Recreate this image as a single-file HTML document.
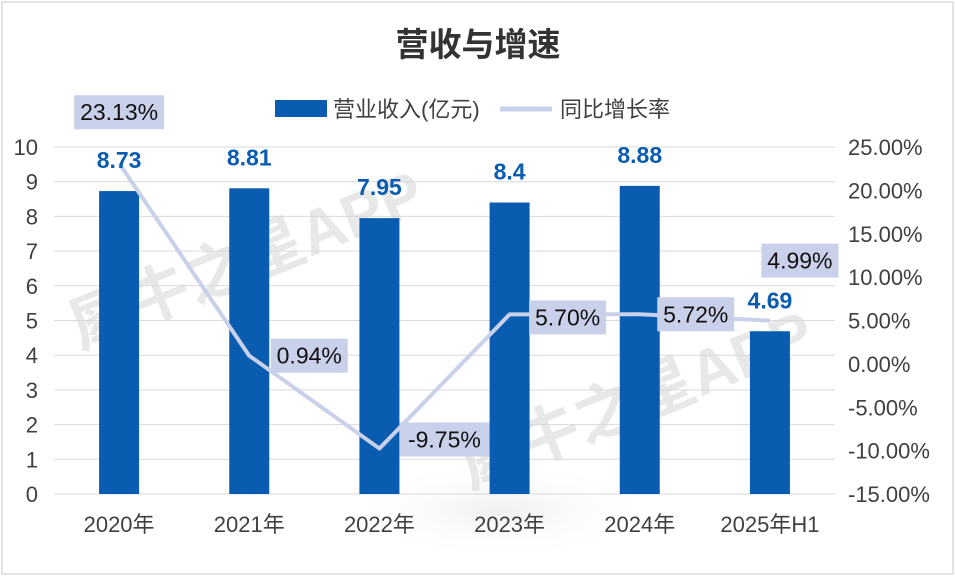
<!DOCTYPE html>
<html><head><meta charset="utf-8"><style>
body{margin:0;background:#fff;}
svg{display:block;font-family:"Liberation Sans","Noto Sans CJK SC",sans-serif;}
</style></head><body>
<svg id="chart" width="955" height="576" viewBox="0 0 955 576">
<defs>
<radialGradient id="ink" cx="50%" cy="50%" r="50%"><stop offset="0" stop-color="#e0e0e0" stop-opacity="0.5"/><stop offset="1" stop-color="#fff" stop-opacity="0"/></radialGradient>
</defs>
<rect x="0" y="0" width="955" height="576" fill="#fff"/>
<ellipse cx="500" cy="510" rx="160" ry="50" fill="url(#ink)"/>
<rect x="2" y="2" width="951" height="572" fill="none" stroke="#d9d9d9" stroke-width="1.5"/>
<text x="478" y="56" text-anchor="middle" font-size="33" font-weight="bold" fill="#333">营收与增速</text>
<g fill="#e8e8e8" font-size="62" font-weight="bold">
<text transform="translate(80,350) rotate(-22)">犀牛之星APP</text>
<text transform="translate(470,490) rotate(-22)">犀牛之星APP</text>
</g>
<g>
<rect x="275" y="100" width="52" height="17" fill="#0a5cb0"/>
<text x="333" y="117" font-size="22" fill="#404040">营业收入(亿元)</text>
<line x1="500" y1="109" x2="552" y2="109" stroke="#c9d0ea" stroke-width="5"/>
<text x="560" y="117" font-size="22" fill="#404040">同比增长率</text>
</g>
<g id="grid"></g><g id="axes"></g><g id="bars"></g><g id="line"></g><g id="labels"></g>
</svg>
<script>
const categories=["2020年","2021年","2022年","2023年","2024年","2025年H1"];
const revenue=[8.73,8.81,7.95,8.4,8.88,4.69];
const growth=[23.13,0.94,-9.75,5.70,5.72,4.99];
const leftTicks=[0,1,2,3,4,5,6,7,8,9,10];
const rightTicks=[-15,-10,-5,0,5,10,15,20,25];
const boxOff=[[0,-51],[60,0],[65,-9],[58,3],[56,0],[30,-60]];
const NS="http://www.w3.org/2000/svg";
const L=54,R=835,T=147,B=494;
const bw=(R-L)/categories.length;
const xC=i=>L+bw*(i+0.5);
const yL=v=>B-(v/10)*(B-T);
const yR=v=>B-((v+15)/40)*(B-T);
function mk(tag,attrs,parent,text){const e=document.createElementNS(NS,tag);for(const k in attrs)e.setAttribute(k,attrs[k]);if(text!==undefined)e.textContent=text;document.getElementById(parent).appendChild(e);return e;}
leftTicks.forEach(t=>{
 const g=mk("line",{x1:L,x2:R,y1:yL(t),y2:yL(t),stroke:"#d9d9d9","stroke-width":1},"grid");
 
 
 const tx=mk("text",{x:38,y:yL(t)+8,"text-anchor":"end","font-size":22,fill:"#404040"},"axes",t);
 
 
});
rightTicks.forEach(t=>{
 const tx=mk("text",{x:848,y:yR(t)+8,"font-size":22,fill:"#404040"},"axes",t.toFixed(2)+"%");
 
 
});
categories.forEach((c,i)=>{
 const tx=mk("text",{x:xC(i),y:532,"text-anchor":"middle","font-size":22,fill:"#404040"},"axes",c);
 
 
});
revenue.forEach((v,i)=>{
 const r=mk("rect",{x:xC(i)-20,y:yL(v),width:40,height:B-yL(v),fill:"#0a5cb0"},"bars");
 
 
 const t=mk("text",{x:xC(i),y:yL(v)-23,"text-anchor":"middle","font-size":23,"font-weight":"bold",fill:"#0a5cb0"},"labels",String(v));
 
 
});
const pts=growth.map((g,i)=>xC(i)+","+yR(g)).join(" ");
const pl=mk("polyline",{points:pts,fill:"none",stroke:"#c9d0ea","stroke-width":4,"stroke-linejoin":"round"},"line");


growth.forEach((g,i)=>{
 const s=g.toFixed(2)+"%";
 const w=s.length*13+12;
 const cx=xC(i)+boxOff[i][0], cy=yR(g)+boxOff[i][1];
 const r=mk("rect",{x:cx-w/2,y:cy-17,width:w,height:34,fill:"#c9d0ea"},"labels");
 
 
 const t=mk("text",{x:cx,y:cy+8,"text-anchor":"middle","font-size":23,fill:"#111"},"labels",s);
 
 
});
</script>
</body></html>
